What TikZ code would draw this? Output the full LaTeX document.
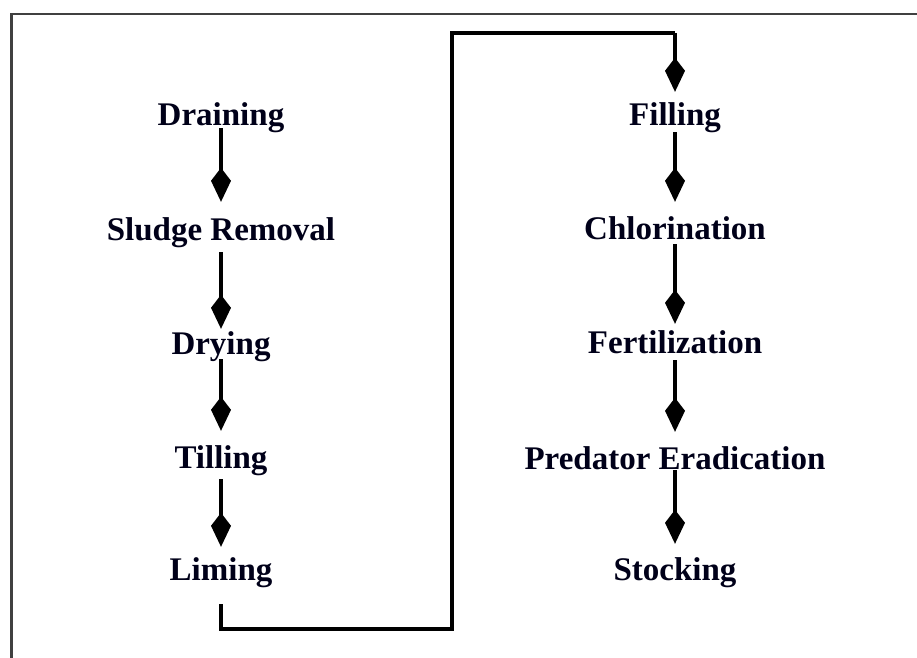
\documentclass[tikz,border=0pt]{standalone}
\usepackage{fontspec}
\setmainfont{Liberation Serif}
\usetikzlibrary{arrows.meta}
\begin{document}
\begin{tikzpicture}[x=1pt,y=-1pt,
  stepbox/.style={inner sep=0pt, anchor=base, text height=23pt, text depth=0pt,
    font=\fontsize{33}{38}\selectfont\bfseries, text=black!90!blue},
  flow/.style={line width=4pt, -{Kite[length=34pt,width=20pt,inset=13pt]}},
  link/.style={line width=4pt}]
\useasboundingbox (0,0) rectangle (917,657);
\fill[white] (0,0) rectangle (917,657);
\begin{scope}
\clip (0,0) rectangle (917,657);
\draw[line width=2.5pt, black!75] (11.5,14) rectangle (940,680);
\end{scope}
% left column
\node[stepbox] (dra) at (221,125) {Draining};
\node[stepbox] (slu) at (221,240) {Sludge Removal};
\node[stepbox] (dry) at (221,354) {Drying};
\node[stepbox] (til) at (221,468) {Tilling};
\node[stepbox] (lim) at (221,580) {Liming};
% right column
\node[stepbox] (fil) at (675,125) {Filling};
\node[stepbox] (chl) at (675,239) {Chlorination};
\node[stepbox] (fer) at (675,353) {Fertilization};
\node[stepbox] (pre) at (675,469) {Predator Eradication};
\node[stepbox] (sto) at (675,580) {Stocking};
% arrows
\draw[flow, shorten <=3pt, shorten >=15pt] (dra.south) -- (slu.north);
\draw[flow, shorten <=12pt, shorten >=2pt] (slu.south) -- (dry.north);
\draw[flow, shorten <=5pt, shorten >=14pt] (dry.south) -- (til.north);
\draw[flow, shorten <=11pt, shorten >=10pt] (til.south) -- (lim.north);
\draw[flow, shorten <=7pt, shorten >=14pt] (fil.south) -- (chl.north);
\draw[flow, shorten <=5pt, shorten >=6pt] (chl.south) -- (fer.north);
\draw[flow, shorten <=7pt, shorten >=14pt] (fer.south) -- (pre.north);
\draw[flow, shorten <=1pt, shorten >=13pt] (pre.south) -- (sto.north);
% long connector
\coordinate (c1) at (452,629);
\coordinate (c2) at (452,33);
\coordinate (l0) at ([yshift=-24pt]lim.south);
\draw[link, line join=miter] (l0) -- (l0 |- c1) -- (c1) -- (c2) -- (c2 -| fil.north);
\draw[flow, shorten >=10pt] (c2 -| fil.north) -- (fil.north);
\end{tikzpicture}
\end{document}
